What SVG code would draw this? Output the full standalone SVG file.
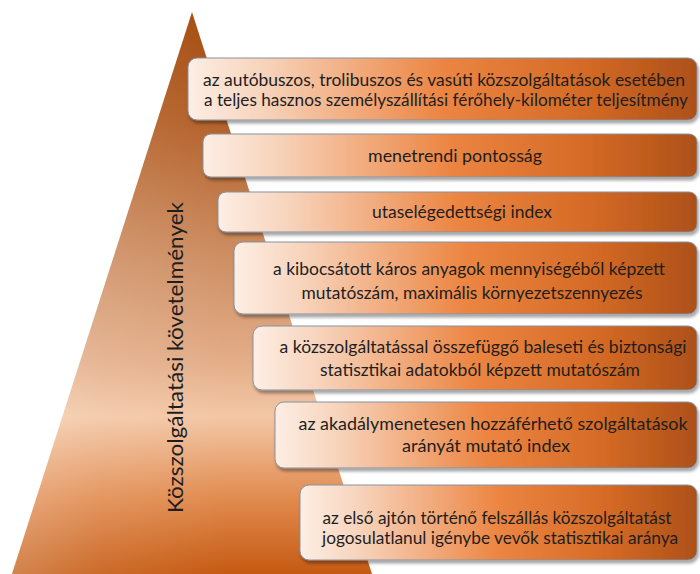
<svg xmlns="http://www.w3.org/2000/svg" width="700" height="574" viewBox="0 0 700 574">
<defs>
<linearGradient id="tri" x1="0" y1="0" x2="0" y2="1">
<stop offset="0" stop-color="#a44a0c"/>
<stop offset="0.2" stop-color="#b4612a"/>
<stop offset="0.45" stop-color="#cf9166"/>
<stop offset="0.62" stop-color="#e3ad88"/>
<stop offset="0.72" stop-color="#f3c7a6"/>
<stop offset="0.86" stop-color="#e28d52"/>
<stop offset="1" stop-color="#c55a12"/>
</linearGradient>
<linearGradient id="triSide" x1="0" y1="0" x2="1" y2="0">
<stop offset="0" stop-color="#ffffff" stop-opacity="0.25"/>
<stop offset="0.25" stop-color="#ffffff" stop-opacity="0.1"/>
<stop offset="0.6" stop-color="#ffffff" stop-opacity="0"/>
</linearGradient>
<linearGradient id="box" x1="0" y1="0" x2="1" y2="0">
<stop offset="0" stop-color="#fdeee4"/>
<stop offset="0.15" stop-color="#f7d3bb"/>
<stop offset="0.5" stop-color="#ec8542"/>
<stop offset="0.78" stop-color="#d46a25"/>
<stop offset="1" stop-color="#ad5019"/>
</linearGradient>
<filter id="sh" x="-5%" y="-20%" width="110%" height="150%">
<feDropShadow dx="1.5" dy="3" stdDeviation="1.8" flood-color="#000" flood-opacity="0.35"/>
</filter>
</defs>
<style>
.b{fill:url(#box);stroke:#8593a3;stroke-width:1;filter:url(#sh)}
.t{font-family:Lato,"Open Sans","Liberation Sans",sans-serif;font-size:16.5px;fill:#1e1e1e;text-anchor:middle}
.v{font-family:Lato,"Open Sans","Liberation Sans",sans-serif;font-size:21px;fill:#1e1e1e;text-anchor:middle}
</style>
<g id="pyramid">
<polygon points="192,12 372,574 12,574" fill="url(#tri)"/>
<polygon points="192,12 372,574 12,574" fill="url(#triSide)"/>
<text class="v" transform="translate(183,357.5) rotate(-90)" textLength="311" lengthAdjust="spacingAndGlyphs">Közszolgáltatási követelmények</text>
</g>
<g id="node1">
<rect class="b" x="188" y="58" width="509" height="62" rx="9"/>
<text class="t" x="444" y="86" textLength="482" lengthAdjust="spacingAndGlyphs">az autóbuszos, trolibuszos és vasúti közszolgáltatások esetében</text>
<text class="t" x="446" y="106" textLength="484" lengthAdjust="spacingAndGlyphs">a teljes hasznos személyszállítási férőhely-kilométer teljesítmény</text>
</g>
<g id="node2">
<rect class="b" x="203" y="134" width="494" height="43" rx="8"/>
<text class="t" x="455" y="162" textLength="174" lengthAdjust="spacingAndGlyphs">menetrendi pontosság</text>
</g>
<g id="node3">
<rect class="b" x="218" y="192" width="479" height="40" rx="8"/>
<text class="t" x="462" y="218" textLength="180" lengthAdjust="spacingAndGlyphs">utaselégedettségi index</text>
</g>
<g id="node4">
<rect class="b" x="234" y="242" width="463" height="72" rx="9"/>
<text class="t" x="469" y="275" textLength="392" lengthAdjust="spacingAndGlyphs">a kibocsátott káros anyagok mennyiségéből képzett</text>
<text class="t" x="472" y="299" textLength="341" lengthAdjust="spacingAndGlyphs">mutatószám, maximális környezetszennyezés</text>
</g>
<g id="node5">
<rect class="b" x="253" y="326" width="444" height="64" rx="9"/>
<text class="t" x="483" y="353" textLength="407" lengthAdjust="spacingAndGlyphs">a közszolgáltatással összefüggő baleseti és biztonsági</text>
<text class="t" x="480" y="376" textLength="320" lengthAdjust="spacingAndGlyphs">statisztikai adatokból képzett mutatószám</text>
</g>
<g id="node6">
<rect class="b" x="275" y="402" width="422" height="66" rx="9"/>
<text class="t" x="493" y="430" textLength="389" lengthAdjust="spacingAndGlyphs">az akadálymenetesen hozzáférhető szolgáltatások</text>
<text class="t" x="486" y="452" textLength="168" lengthAdjust="spacingAndGlyphs">arányát mutató index</text>
</g>
<g id="node7">
<rect class="b" x="300" y="485" width="397" height="75" rx="9"/>
<text class="t" x="497" y="524" textLength="349" lengthAdjust="spacingAndGlyphs">az első ajtón történő felszállás közszolgáltatást</text>
<text class="t" x="500" y="544" textLength="356" lengthAdjust="spacingAndGlyphs">jogosulatlanul igénybe vevők statisztikai aránya</text>
</g>
</svg>
